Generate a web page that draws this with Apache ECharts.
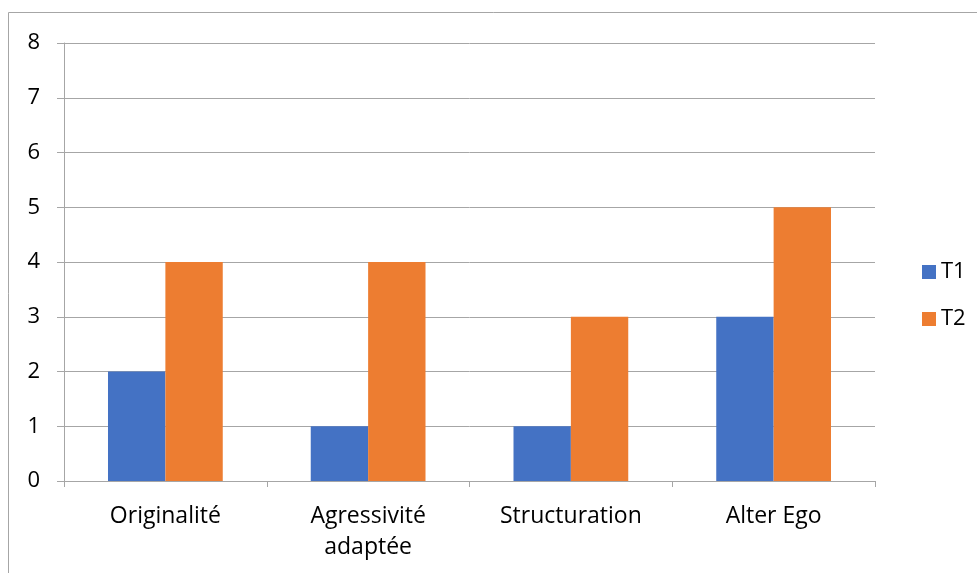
<!DOCTYPE html>
<html><head><meta charset="utf-8">
<script src="https://cdn.jsdelivr.net/npm/echarts@6/dist/echarts.min.js"></script>
<style>html,body{margin:0;padding:0;background:#fff}#c{width:977px;height:573px}</style>
</head><body><div id="c"></div>
<script>
const categories = ['Originalité', 'Agressivité\nadaptée', 'Structuration', 'Alter Ego'];
const seriesNames = ['T1', 'T2'];
const t1 = [2, 1, 1, 3];
const t2 = [4, 4, 3, 5];
const yTicks = [0, 1, 2, 3, 4, 5, 6, 7, 8];

const font = 'Open Sans';
const chart = echarts.init(document.getElementById('c'));
chart.setOption({
  animation: false,
  textStyle: { fontFamily: font },
  graphic: [{ type: 'rect', shape: { x: 8.5, y: 12.5, width: 1000, height: 600 }, style: { fill: 'none', stroke: '#A6A6A6', lineWidth: 1 }, z: -1 }],
  legend: {
    orient: 'vertical', left: 917, top: 256, itemWidth: 14, itemHeight: 14, itemGap: 25,
    icon: 'rect',
    textStyle: { fontSize: 22, color: '#000', fontFamily: font },
    data: seriesNames
  },
  grid: { left: 64, right: 102, top: 43, bottom: 92 },
  xAxis: {
    type: 'category', data: categories,
    axisLine: { lineStyle: { color: '#A6A6A6' } },
    axisTick: { show: true, length: 6, lineStyle: { color: '#A6A6A6' } },
    axisLabel: { fontSize: 23, color: '#000', margin: 20, lineHeight: 31, interval: 0, fontFamily: font }
  },
  yAxis: {
    type: 'value', min: yTicks[0], max: yTicks[yTicks.length - 1], interval: 1,
    axisLine: { show: true, lineStyle: { color: '#A6A6A6' } },
    axisTick: { show: true, length: 7, lineStyle: { color: '#A6A6A6' } },
    splitLine: { lineStyle: { color: '#A6A6A6' } },
    axisLabel: { fontSize: 22, color: '#000', margin: 24, fontFamily: font }
  },
  series: [
    { name: seriesNames[0], type: 'bar', data: t1, barWidth: '28.3%', barGap: '0%', itemStyle: { color: '#4472C4' } },
    { name: seriesNames[1], type: 'bar', data: t2, barWidth: '28.3%', barGap: '0%', itemStyle: { color: '#ED7D31' } }
  ]
});
</script></body></html>
